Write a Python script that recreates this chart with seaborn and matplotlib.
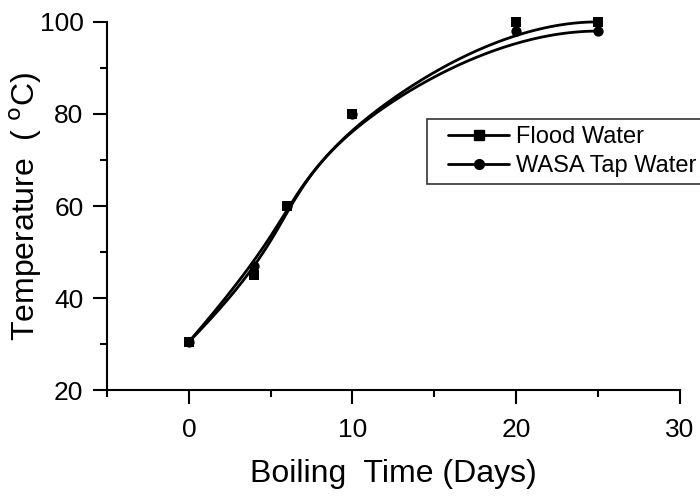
import numpy as np
import pandas as pd
import matplotlib
matplotlib.use("Agg")
import matplotlib.pyplot as plt
from matplotlib.lines import Line2D
from matplotlib.legend_handler import HandlerLine2D
from matplotlib.ticker import MultipleLocator
import seaborn as sns

# --- datos ---
days = [0, 4, 6, 10, 20, 25]
flood_water = [30.5, 45, 60, 80, 100, 100]
wasa_tap_water = [30.5, 47, 60, 80, 98, 98]
series_names = ["Flood Water", "WASA Tap Water"]
series_markers = ["s", "o"]


def bspline_curve(x, y, n=300, k=3):
    """Curva B-spline (estilo Origin) usando los puntos como puntos de control."""
    P = np.column_stack([x, y]).astype(float)
    m = len(P)
    knots = np.concatenate([np.zeros(k), np.linspace(0, 1, m - k + 1), np.ones(k)])
    u = np.linspace(0, 1, n)
    u[-1] -= 1e-10
    # Cox-de Boor
    N = np.array([[1.0 if knots[i] <= t < knots[i + 1] else 0.0 for i in range(len(knots) - 1)] for t in u])
    for d in range(1, k + 1):
        Nn = np.zeros((n, len(knots) - 1 - d))
        for i in range(len(knots) - 1 - d):
            a = knots[i + d] - knots[i]
            b = knots[i + d + 1] - knots[i + 1]
            t1 = (u - knots[i]) / a * N[:, i] if a > 0 else 0
            t2 = (knots[i + d + 1] - u) / b * N[:, i + 1] if b > 0 else 0
            Nn[:, i] = t1 + t2
        N = Nn
    C = N @ P
    return C[:, 0], C[:, 1]


sns.set_theme(style="ticks")
plt.rcParams["font.family"] = ["Liberation Sans", "DejaVu Sans"]
plt.rcParams["text.color"] = "black"
plt.rcParams["axes.labelcolor"] = "black"
plt.rcParams["xtick.color"] = "black"
plt.rcParams["ytick.color"] = "black"

fig = plt.figure(figsize=(7, 4.97), dpi=100)
ax = fig.add_axes([0.153, 0.215, 0.818, 0.741])

for name, vals, mk in zip(series_names, [flood_water, wasa_tap_water], series_markers):
    cx, cy = bspline_curve(days, vals)
    curve = pd.DataFrame({"x": cx, "y": cy})
    sns.lineplot(data=curve, x="x", y="y", ax=ax, color="black", linewidth=2.0,
                 sort=False, estimator=None, clip_on=False)
    pts = pd.DataFrame({"x": days, "y": vals})
    sns.scatterplot(data=pts, x="x", y="y", ax=ax, color="black", marker=mk,
                    s=55, edgecolor="black", linewidth=0, zorder=3, clip_on=False)

ax.set_xlim(-5, 30)
ax.set_ylim(20, 100)
ax.xaxis.set_major_locator(MultipleLocator(10))
ax.xaxis.set_minor_locator(MultipleLocator(5))
ax.yaxis.set_major_locator(MultipleLocator(20))
ax.yaxis.set_minor_locator(MultipleLocator(10))
ax.tick_params(which="major", direction="out", length=10, width=1.5, labelsize=19)
ax.tick_params(which="minor", direction="out", length=5, width=1.5)
ax.tick_params(axis="x", which="major", pad=10)
ax.tick_params(axis="y", which="major", pad=7)
for s in ["left", "bottom"]:
    ax.spines[s].set_linewidth(1.5)
    ax.spines[s].set_color("black")
for s in ["right", "top"]:
    ax.spines[s].set_visible(False)

ax.set_xlabel("Boiling  Time (Days)", fontsize=23, labelpad=12)
ax.set_ylabel("Temperature  ( $^{\\rm o}$C)", fontsize=23)
ax.yaxis.set_label_coords(-0.11, 0.5)

handles = [Line2D([], [], color="black", linewidth=2, marker=m, markersize=7)
           for m in series_markers]
leg = ax.legend(handles, series_names, loc="upper left", bbox_to_anchor=(0.558, 0.736),
                fontsize=17, frameon=True, fancybox=False, handlelength=3.2,
                handletextpad=0.3, borderpad=0.3, labelspacing=0.3, borderaxespad=0,
                handler_map={Line2D: HandlerLine2D(xpad=0.6)})
leg.get_frame().set_edgecolor("black")
leg.get_frame().set_linewidth(1.2)

fig.savefig("out.png", dpi=100)
